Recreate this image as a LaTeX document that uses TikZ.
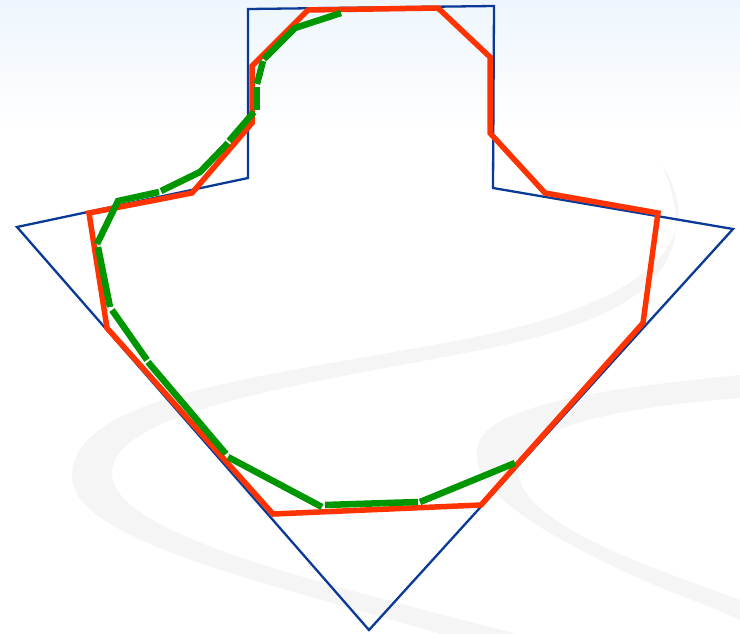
\documentclass[tikz,border=0pt]{standalone}
\usepackage{amsmath, amssymb, tikz}
\usetikzlibrary{positioning}

\definecolor{hullblue}{RGB}{10,58,150}
\definecolor{polyred}{RGB}{255,51,0}
\definecolor{polygreen}{RGB}{0,150,0}
\definecolor{skyblue}{RGB}{238,246,253}

\tikzset{
	hull/.style={draw=hullblue, line width=2.3pt, line join=miter},
	outer/.style={draw=polyred, line width=5.5pt, line join=miter},
	inner/.style={draw=polygreen, line width=6.5pt, line cap=butt, line join=miter},
	swoosh/.style={fill=black!4, draw=none}
}

\begin{document}
\begin{tikzpicture}[x=1pt, y=-1pt]
		\useasboundingbox[fill=white] (0,0) rectangle (740,633);
		\shade[top color=skyblue, bottom color=white] (0,0) rectangle (740,135);
		
		\fill[swoosh] (662,165) .. controls (705,230) and (670,300) .. (460,340)
			.. controls (260,378) and (70,395) .. (72,478)
			.. controls (75,545) and (300,590) .. (460,640) -- (540,640)
			.. controls (330,585) and (105,535) .. (112,470)
			.. controls (120,410) and (300,385) .. (470,352)
			.. controls (650,318) and (705,265) .. (662,165) -- cycle;
		\fill[swoosh] (740,375) .. controls (640,385) and (500,400) .. (480,440)
			.. controls (462,480) and (520,520) .. (600,560)
			.. controls (660,590) and (710,605) .. (740,620) -- (740,600)
			.. controls (660,570) and (500,520) .. (520,460)
			.. controls (535,420) and (650,405) .. (740,398) -- cycle;
		
		\coordinate (tl) at (248,9);
		\coordinate (tr) at (494,6);
		\coordinate (rs) at (493,188);
		\coordinate (re) at (733,229);
		\coordinate (bt) at (369,630);
		\coordinate (le) at (17,227);
		\coordinate (ls) at (248,178);
		
		\draw[hull] (tl) -- (tr) -- (rs) -- (re) -- (bt) -- (le) -- (ls) -- cycle;
		
		\coordinate (r1) at (308,10);
		\coordinate (r2) at (438,8);
		\coordinate (r3) at (490,57);
		\coordinate (r4) at (490,133);
		\coordinate (r5) at (545,193);
		\coordinate (r6) at (658,213);
		\coordinate (r7) at (643,323);
		\coordinate (r8) at (481,505);
		\coordinate (r9) at (273,514);
		\coordinate (r10) at (107,328);
		\coordinate (r11) at (89,213);
		\coordinate (r12) at (192,193);
		\coordinate (r13) at (252,123);
		\coordinate (r14) at (252,66);
		
		\draw[outer] (r1) -- (r2) -- (r3) -- (r4) -- (r5) -- (r6) -- (r7)
			-- (r8) -- (r9) -- (r10) -- (r11) -- (r12) -- (r13) -- (r14) -- cycle;
		
		\draw[inner] (341,13) -- (295,28) -- (264,59);
		\draw[inner] (263,61) -- (257,84);
		\draw[inner] (257,87) -- (257,110);
		\draw[inner] (254,112) -- (229,141);
		\draw[inner] (228,143) -- (200,172) -- (161,191);
		\draw[inner] (159,192) -- (118,201) -- (97,244);
		\draw[inner] (98,247) -- (110,307);
		\draw[inner] (112,310) -- (147,360);
		\draw[inner] (148,362) -- (226,454);
		\draw[inner] (228,457) -- (322,507);
		\draw[inner] (325,505) -- (418,502);
		\draw[inner] (420,502) -- (515,463);
	\end{tikzpicture}
\end{document}
